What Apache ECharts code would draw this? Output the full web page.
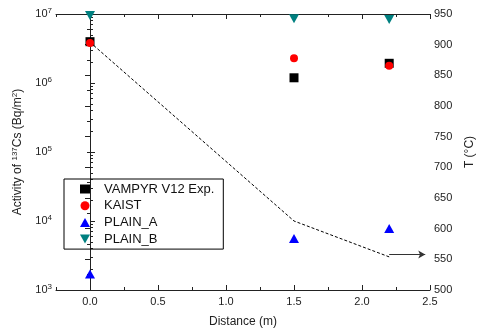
<!DOCTYPE html>
<html>
<head>
<meta charset="utf-8">
<script src="https://cdn.jsdelivr.net/npm/echarts@6/dist/echarts.min.js"></script>
<style>html,body{margin:0;padding:0;background:#fff;}#c{width:478px;height:333px;}</style>
</head>
<body>
<div id="c"></div>
<script>
var distance = [0, 1.5, 2.2];
var vampyr = [3.97e6, 1.19e6, 1.93e6];
var kaist = [3.8e6, 2.28e6, 1.78e6];
var plainA = [1.71e3, 5.6e3, 7.8e3];
var plainB = [9.5e6, 8.5e6, 8.3e6];
var tempDist = [0, 1.5, 2.2];
var temp = [904, 612.5, 554];
var arrowFrom = [2.2, 558];
var arrowTo = [2.465, 558];
var xTicks = [0.0, 0.5, 1.0, 1.5, 2.0, 2.5];
var yLogTicks = [1e3, 1e4, 1e5, 1e6, 1e7];
var tTicks = [500, 550, 600, 650, 700, 750, 800, 850, 900, 950];

var minorLog = [];
for (var d = 3; d < 7; d++) for (var m = 2; m <= 9; m++) minorLog.push(m * Math.pow(10, d));

function pairs(xs, ys) { return xs.map(function (x, i) { return [x, ys[i]]; }); }

var font = 'Liberation Sans, Arial, sans-serif';
var axisCol = '#222';
var downTri = 'path://M0,0 L10,0 L5,9 Z';

var chart = echarts.init(document.getElementById('c'));
chart.setOption({
  animation: false,
  textStyle: { fontFamily: font },
  grid: { left: 56, right: 48, top: 14, bottom: 43, containLabel: false, outerBoundsMode: 'none' },
  legend: {
    orient: 'vertical', left: 64, top: 179,
    borderColor: '#000', borderWidth: 1, borderRadius: 0,
    padding: [3.5, 9, 3.5, 16],
    itemWidth: 10, itemHeight: 9, itemGap: 3.7,
    textStyle: { fontFamily: font, fontSize: 13, color: '#111', padding: [0, 0, 0, 9] },
    data: ['VAMPYR V12 Exp.', 'KAIST', 'PLAIN_A', 'PLAIN_B']
  },
  xAxis: [{
    type: 'value', min: -0.25, max: 2.5, interval: 0.5, position: 'bottom',
    name: 'Distance (m)', nameLocation: 'middle', nameGap: 26,
    nameTextStyle: { fontFamily: font, fontSize: 12, color: '#222' },
    axisLine: { lineStyle: { color: axisCol, width: 1 } },
    axisTick: { inside: true, length: 5, customValues: xTicks, lineStyle: { color: axisCol } },
    minorTick: { show: false },
    axisLabel: { customValues: xTicks, fontSize: 11, color: '#222', margin: 6,
      formatter: function (v) { return v.toFixed(1); } },
    splitLine: { show: false }
  }, {
    type: 'value', min: -0.25, max: 2.5, interval: 0.25, position: 'top',
    axisLine: { lineStyle: { color: axisCol, width: 1 } },
    axisTick: { inside: true, length: 3, lineStyle: { color: axisCol } },
    axisLabel: { show: false }, splitLine: { show: false }
  }, {
    type: 'value', min: -0.25, max: 2.5, interval: 0.25, position: 'bottom',
    axisLine: { show: false },
    axisTick: { inside: true, length: 3, lineStyle: { color: axisCol } },
    axisLabel: { show: false }, splitLine: { show: false }
  }, {
    type: 'value', min: -0.25, max: 2.5, position: 'top',
    axisLine: { show: false },
    axisTick: { inside: true, length: 5, customValues: xTicks, lineStyle: { color: axisCol } },
    axisLabel: { show: false }, splitLine: { show: false }
  }],
  yAxis: [{
    type: 'log', logBase: 10, min: 1e3, max: 1e7, position: 'left',
    name: '{n|Activity of }{s|137}{n|Cs (Bq/m}{s|2}{n|)}',
    nameLocation: 'middle', nameGap: 31, nameRotate: 90,
    nameTextStyle: { rich: {
      n: { fontFamily: font, fontSize: 12, color: '#222' },
      s: { fontFamily: font, fontSize: 8, color: '#222', verticalAlign: 'top', padding: [0, 0, 6, 0] }
    } },
    axisLine: { lineStyle: { color: axisCol, width: 1 } },
    axisTick: { inside: true, length: 5, customValues: yLogTicks, lineStyle: { color: axisCol } },
    axisLabel: { customValues: yLogTicks, margin: 4,
      formatter: function (v) { return '{b|10}{e|' + Math.round(Math.log10(v)) + '}'; },
      rich: {
        b: { fontFamily: font, fontSize: 11, color: '#222' },
        e: { fontFamily: font, fontSize: 8, color: '#222', verticalAlign: 'top', padding: [0, 0, 6, 0] }
      } },
    splitLine: { show: false }
  }, {
    type: 'value', min: 500, max: 950, interval: 50, position: 'right',
    name: 'T (°C)', nameLocation: 'middle', nameGap: 30, nameRotate: 90,
    nameTextStyle: { fontFamily: font, fontSize: 12, color: '#222' },
    axisLine: { lineStyle: { color: axisCol, width: 1 } },
    axisTick: { inside: true, length: 5, lineStyle: { color: axisCol } },
    minorTick: { show: true, splitNumber: 2, length: 3, lineStyle: { color: axisCol } },
    axisLabel: { fontSize: 11, color: '#222', margin: 4 },
    splitLine: { show: false }, minorSplitLine: { show: false }
  }, {
    type: 'log', logBase: 10, min: 1e3, max: 1e7, position: 'left', offset: 0,
    axisLine: { show: false },
    axisTick: { inside: true, length: 3, customValues: minorLog, lineStyle: { color: axisCol } },
    axisLabel: { show: false }, splitLine: { show: false }
  }],
  series: [{
    name: 'T', type: 'line', xAxisIndex: 0, yAxisIndex: 1, data: pairs(tempDist, temp),
    symbol: 'none', lineStyle: { color: '#000', width: 1, type: [3, 2] }, z: 1,
    markLine: {
      silent: true, symbol: ['none', 'arrow'], symbolSize: [6, 7],
      label: { show: false },
      lineStyle: { color: '#333', width: 1, type: 'solid' },
      data: [[{ coord: arrowFrom }, { coord: arrowTo }]]
    }
  }, {
    name: 'VAMPYR V12 Exp.', type: 'scatter', xAxisIndex: 0, yAxisIndex: 0,
    data: pairs(distance, vampyr), symbol: 'rect', symbolSize: 9,
    itemStyle: { color: '#000', opacity: 1 }, z: 3
  }, {
    name: 'KAIST', type: 'scatter', xAxisIndex: 0, yAxisIndex: 0,
    data: pairs(distance, kaist), symbol: 'circle', symbolSize: 8,
    itemStyle: { color: '#ff0000', opacity: 1 }, z: 4
  }, {
    name: 'PLAIN_A', type: 'scatter', xAxisIndex: 0, yAxisIndex: 0,
    data: pairs(distance, plainA), symbol: 'triangle', symbolSize: [10, 9],
    itemStyle: { color: '#0000ff', opacity: 1 }, z: 3
  }, {
    name: 'PLAIN_B', type: 'scatter', xAxisIndex: 0, yAxisIndex: 0,
    data: pairs(distance, plainB), symbol: downTri, symbolSize: [10, 9],
    itemStyle: { color: '#008080', opacity: 1 }, z: 3
  }]
});
</script>
</body>
</html>
